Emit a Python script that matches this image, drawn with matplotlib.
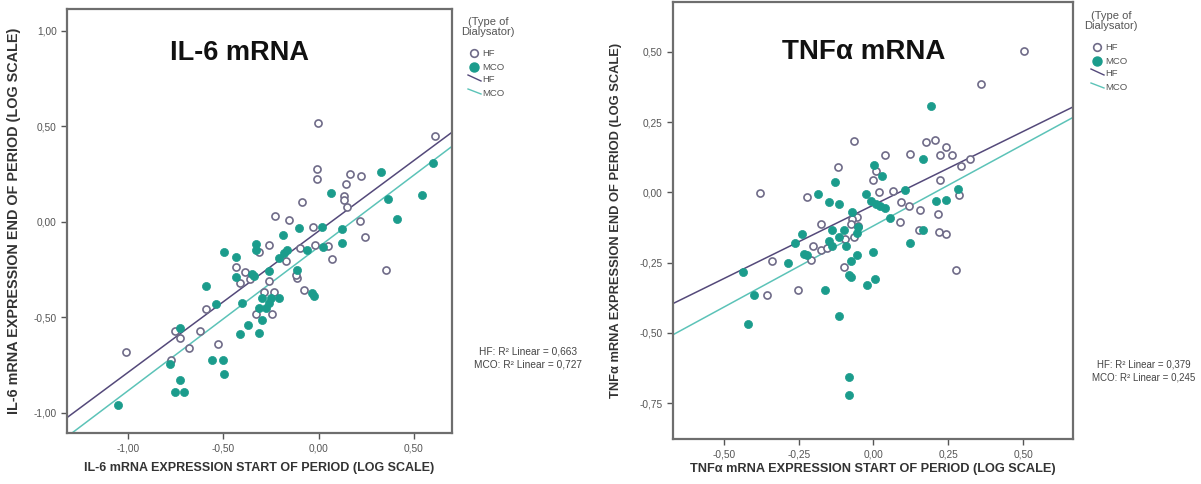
import matplotlib
matplotlib.use("Agg")
import matplotlib.pyplot as plt
from matplotlib.lines import Line2D
import numpy as np

plt.rcParams['font.family'] = ['Liberation Sans', 'DejaVu Sans']

# ---------------- IL-6 panel data ----------------
il6_hf_x = [-1.009, -0.005, 0.609, -0.01, -0.01, 0.163, 0.223, 0.144, 0.135, 0.135, 0.149,
            -0.089, -0.228, -0.154, -0.03, 0.219, 0.244, -0.019, 0.047, 0.072, 0.354, -0.096,
            -0.26, -0.312, -0.172, -0.435, -0.388, -0.36, -0.412, -0.114, -0.119, -0.26,
            -0.289, -0.233, -0.074, -0.589, -0.326, -0.242, -0.623, -0.754, -0.725, -0.526,
            -0.681, -0.775]
il6_hf_y = [-0.679, 0.517, 0.451, 0.277, 0.225, 0.249, 0.237, 0.197, 0.136, 0.113, 0.078,
            0.105, 0.030, 0.009, -0.030, 0.005, -0.078, -0.122, -0.127, -0.197, -0.253, -0.139,
            -0.122, -0.157, -0.204, -0.239, -0.261, -0.301, -0.322, -0.293, -0.279, -0.310,
            -0.369, -0.368, -0.357, -0.458, -0.484, -0.484, -0.571, -0.571, -0.606, -0.641,
            -0.659, -0.723]
il6_mco_x = [-1.054, -0.777, -0.726, -0.751, -0.707, -0.728, -0.558, -0.5, -0.498, -0.412,
             -0.312, -0.368, -0.295, -0.312, -0.277, -0.26, -0.251, -0.207, -0.296, -0.4,
             -0.54, -0.589, -0.496, -0.435, -0.435, -0.347, -0.339, -0.33, -0.326, -0.26,
             -0.207, -0.184, -0.168, -0.189, -0.111, -0.102, -0.061, -0.032, -0.023, 0.016,
             0.021, 0.065, 0.121, 0.121, 0.325, 0.363, 0.411, 0.542, 0.6]
il6_mco_y = [-0.958, -0.746, -0.828, -0.889, -0.889, -0.557, -0.723, -0.723, -0.798, -0.587,
             -0.584, -0.540, -0.514, -0.453, -0.453, -0.423, -0.401, -0.397, -0.397, -0.423,
             -0.432, -0.336, -0.157, -0.183, -0.287, -0.274, -0.284, -0.117, -0.148, -0.258,
             -0.188, -0.166, -0.148, -0.071, -0.253, -0.031, -0.148, -0.371, -0.387, -0.026,
             -0.131, 0.148, -0.040, -0.113, 0.258, 0.118, 0.017, 0.141, 0.310]
il6_fit_hf = [0.739, -0.049]    # slope, intercept
il6_fit_mco = [0.752, -0.132]
il6_r2 = ["0,663", "0,727"]

# ---------------- TNFa panel data ----------------
tnf_hf_x = [0.502, 0.359, -0.065, 0.205, 0.174, 0.243, 0.037, 0.123, 0.221, 0.261, 0.322,
            0.291, -0.12, 0.009, -0.003, 0.221, -0.378, 0.02, 0.065, 0.286, -0.222, 0.093,
            0.118, 0.154, 0.216, -0.174, -0.056, -0.071, -0.076, -0.05, 0.09, 0.151, 0.219,
            0.243, -0.065, -0.095, -0.202, -0.174, -0.154, -0.209, -0.339, -0.098, 0.277,
            -0.252, -0.357]
tnf_hf_y = [0.504, 0.386, 0.184, 0.188, 0.178, 0.160, 0.133, 0.136, 0.133, 0.133, 0.118,
            0.095, 0.092, 0.075, 0.045, 0.043, -0.002, 0.001, 0.006, -0.008, -0.017, -0.034,
            -0.050, -0.064, -0.076, -0.111, -0.088, -0.095, -0.111, -0.118, -0.107, -0.135,
            -0.141, -0.148, -0.160, -0.166, -0.192, -0.206, -0.198, -0.242, -0.243, -0.265,
            -0.275, -0.346, -0.364]
tnf_mco_x = [0.194, 0.166, 0.003, 0.03, -0.127, -0.187, -0.026, -0.149, -0.115, -0.009,
             0.008, 0.022, 0.037, 0.104, 0.21, 0.243, 0.284, 0.056, -0.071, -0.138, -0.098,
             -0.05, -0.056, 0.166, -0.238, -0.261, -0.149, -0.115, -0.138, -0.092, -0.232,
             -0.221, -0.056, 0.0, 0.121, -0.286, -0.076, -0.081, -0.076, -0.022, 0.006,
             -0.435, -0.4, -0.163, -0.42, -0.115, -0.081, -0.081]
tnf_mco_y = [0.308, 0.118, 0.096, 0.059, 0.036, -0.006, -0.006, -0.034, -0.040, -0.030,
             -0.040, -0.050, -0.056, 0.009, -0.030, -0.026, 0.013, -0.091, -0.068, -0.133,
             -0.135, -0.124, -0.145, -0.135, -0.148, -0.180, -0.174, -0.160, -0.190, -0.192,
             -0.219, -0.224, -0.222, -0.213, -0.180, -0.251, -0.243, -0.293, -0.301, -0.328,
             -0.308, -0.283, -0.364, -0.346, -0.467, -0.441, -0.658, -0.722]
tnf_fit_hf = [0.523, -0.045]
tnf_fit_mco = [0.578, -0.119]
tnf_r2 = ["0,379", "0,245"]

HF_MARK = "#6f6b88"
MCO_MARK = "#1b9c8c"
HF_LINE = "#54497a"
MCO_LINE = "#5cc3b8"
FRAME = "#6e6e6e"

W, H = 1201, 484
fig = plt.figure(figsize=(W / 100, H / 100), dpi=100)


def fx(px):
    return px / W


def fy(py):
    return 1 - py / H


def comma(v, pos=None):
    return f"{v:.2f}".replace(".", ",")


def panel(rect, hx, hy, mx, my, fhf, fmco, xlim, ylim, xticks, yticks,
          title, title_xy, title_size, xlabel, ylabel, xl_size, yl_size, xl_y, yl_x):
    ax = fig.add_axes(rect)
    ax.set_xlim(*xlim)
    ax.set_ylim(*ylim)
    xs = np.array(xlim)
    ax.plot(xs, fhf[0] * xs + fhf[1], color=HF_LINE, lw=1.1, zorder=2)
    ax.plot(xs, fmco[0] * xs + fmco[1], color=MCO_LINE, lw=1.1, zorder=2)
    ax.scatter(hx, hy, s=26, facecolors="white", edgecolors=HF_MARK, linewidths=1.2, zorder=3)
    ax.scatter(mx, my, s=34, facecolors=MCO_MARK, edgecolors=MCO_MARK, linewidths=0.5, zorder=3)
    ax.set_xticks(xticks)
    ax.set_yticks(yticks)
    ax.xaxis.set_major_formatter(plt.FuncFormatter(comma))
    ax.yaxis.set_major_formatter(plt.FuncFormatter(comma))
    ax.tick_params(axis="both", labelsize=7.3, colors="#555555", length=4, width=1,
                   direction="out")
    for s in ax.spines.values():
        s.set_color(FRAME)
        s.set_linewidth(1.6)
    ax.set_xlabel(xlabel, fontsize=xl_size, fontweight="bold", color="#333333")
    ax.set_ylabel(ylabel, fontsize=yl_size, fontweight="bold", color="#333333")
    ax.xaxis.set_label_coords(0.5, xl_y)
    ax.yaxis.set_label_coords(yl_x, 0.5)
    ax.text(title_xy[0], title_xy[1], title, transform=fig.transFigure, ha="center",
            va="center", fontsize=title_size, fontweight="bold", color="#111111")
    return ax


# left axes: x 67..452, y 9..433
ax1 = panel([fx(67), fy(433), fx(452 - 67), (433 - 9) / H],
            il6_hf_x, il6_hf_y, il6_mco_x, il6_mco_y, il6_fit_hf, il6_fit_mco,
            (-1.32, 0.70), (-1.105, 1.113), [-1.0, -0.5, 0.0, 0.5],
            [-1.0, -0.5, 0.0, 0.5, 1.0],
            "IL-6 mRNA", (fx(239), fy(53)), 19.5,
            "IL-6 mRNA EXPRESSION START OF PERIOD (LOG SCALE)",
            "IL-6 mRNA EXPRESSION END OF PERIOD (LOG SCALE)",
            9.0, 10.4, -(462 - 433) / 424, -(67 - 21) / 385)

# right axes: x 673..1073, y 2..439
ax2 = panel([fx(673), fy(439), fx(1073 - 673), (439 - 2) / H],
            tnf_hf_x, tnf_hf_y, tnf_mco_x, tnf_mco_y, tnf_fit_hf, tnf_fit_mco,
            (-0.67, 0.667), (-0.877, 0.677), [-0.5, -0.25, 0.0, 0.25, 0.5],
            [-0.75, -0.5, -0.25, 0.0, 0.25, 0.5],
            "TNFα mRNA", (fx(864), fy(52)), 20,
            "TNFα mRNA EXPRESSION START OF PERIOD (LOG SCALE)",
            "TNFα mRNA EXPRESSION END OF PERIOD (LOG SCALE)",
            9.2, 9.3, -(463 - 439) / 437, -(673 - 622) / 400)


def legend(x0, y0):
    # header
    fig.text(fx(x0 + 14), fy(y0), "(Type of\nDialysator)", ha="center", va="top",
             fontsize=8, color="#555555", linespacing=0.95)
    ym = y0 + 36
    fig.add_artist(Line2D([fx(x0)], [fy(ym)], marker="o", markersize=5.5,
                          markerfacecolor="white", markeredgecolor=HF_MARK,
                          markeredgewidth=1.2, linestyle="none"))
    fig.text(fx(x0 + 8), fy(ym), "HF", ha="left", va="center", fontsize=6.8, color="#555555")
    fig.add_artist(Line2D([fx(x0)], [fy(ym + 14)], marker="o", markersize=6.5,
                          markerfacecolor=MCO_MARK, markeredgecolor=MCO_MARK,
                          linestyle="none"))
    fig.text(fx(x0 + 8), fy(ym + 14), "MCO", ha="left", va="center", fontsize=6.8,
             color="#555555")
    fig.add_artist(Line2D([fx(x0 - 6), fx(x0 + 7)], [fy(ym + 22), fy(ym + 28)],
                          color=HF_LINE, lw=1))
    fig.text(fx(x0 + 8), fy(ym + 26), "HF", ha="left", va="center", fontsize=6.8,
             color="#555555")
    fig.add_artist(Line2D([fx(x0 - 6), fx(x0 + 7)], [fy(ym + 36), fy(ym + 41)],
                          color=MCO_LINE, lw=1))
    fig.text(fx(x0 + 8), fy(ym + 40), "MCO", ha="left", va="center", fontsize=6.8,
             color="#555555")


legend(474, 17)
legend(1097, 11)

fig.text(fx(528), fy(358), f"HF: R² Linear = {il6_r2[0]}\nMCO: R² Linear = {il6_r2[1]}",
         ha="center", va="center", fontsize=7.3, color="#444444", linespacing=1.3)
fig.text(fx(1144), fy(371), f"HF: R² Linear = {tnf_r2[0]}\nMCO: R² Linear = {tnf_r2[1]}",
         ha="center", va="center", fontsize=7.0, color="#444444", linespacing=1.3)

fig.savefig("out.png", dpi=100)
